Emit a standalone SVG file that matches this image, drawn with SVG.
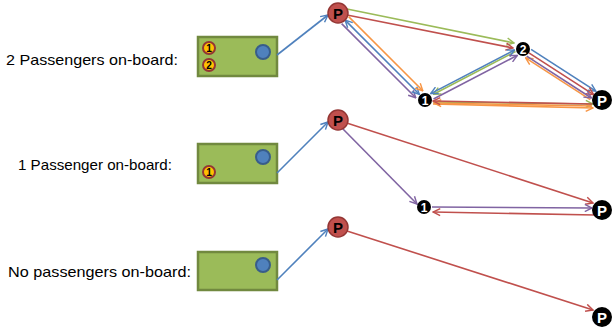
<svg xmlns="http://www.w3.org/2000/svg" width="612" height="332" viewBox="0 0 612 332">
  <style>
    .lbl { font-family: "Liberation Sans", Arial, sans-serif; font-size: 14.5px; fill: #000; }
    .box { fill: #9BBB59; stroke: #71893F; stroke-width: 2.5; }
    .dot { fill: #4F81BD; stroke: #385D8A; stroke-width: 2; }
    .badge { fill: #FFC000; stroke: #943634; stroke-width: 2; }
    .badge-t { font-family: "Liberation Sans", Arial, sans-serif; font-size: 10px; font-weight: bold; fill: #000; text-anchor: middle; }
    .stop { fill: #C0504D; stroke: #943634; stroke-width: 1.5; }
    .stop-t { font-family: "Liberation Sans", Arial, sans-serif; font-size: 15px; font-weight: bold; fill: #000; text-anchor: middle; }
    .pt { fill: #000; }
    .pt-t { font-family: "Liberation Sans", Arial, sans-serif; font-weight: bold; fill: #fff; text-anchor: middle; }
    .c { fill: none; stroke-width: 1.6; }
    .blue { stroke: #4F81BD; }
    .red { stroke: #C0504D; }
    .green { stroke: #9BBB59; }
    .purple { stroke: #8064A2; }
    .orange { stroke: #F79646; }
  </style>
  <defs>
    <marker id="aBlue" viewBox="0 0 10 10" refX="9" refY="5" markerWidth="9" markerHeight="9" markerUnits="userSpaceOnUse" orient="auto-start-reverse"><path d="M1,1 L9,5 L1,9" fill="none" stroke="#4F81BD" stroke-width="1.6"/></marker>
    <marker id="aRed" viewBox="0 0 10 10" refX="9" refY="5" markerWidth="9" markerHeight="9" markerUnits="userSpaceOnUse" orient="auto-start-reverse"><path d="M1,1 L9,5 L1,9" fill="none" stroke="#C0504D" stroke-width="1.6"/></marker>
    <marker id="aGreen" viewBox="0 0 10 10" refX="9" refY="5" markerWidth="9" markerHeight="9" markerUnits="userSpaceOnUse" orient="auto-start-reverse"><path d="M1,1 L9,5 L1,9" fill="none" stroke="#9BBB59" stroke-width="1.6"/></marker>
    <marker id="aPurple" viewBox="0 0 10 10" refX="9" refY="5" markerWidth="9" markerHeight="9" markerUnits="userSpaceOnUse" orient="auto-start-reverse"><path d="M1,1 L9,5 L1,9" fill="none" stroke="#8064A2" stroke-width="1.6"/></marker>
    <marker id="aOrange" viewBox="0 0 10 10" refX="9" refY="5" markerWidth="9" markerHeight="9" markerUnits="userSpaceOnUse" orient="auto-start-reverse"><path d="M1,1 L9,5 L1,9" fill="none" stroke="#F79646" stroke-width="1.6"/></marker>
  </defs>

  <!-- row labels -->
  <text class="lbl" x="6" y="65" textLength="172" lengthAdjust="spacingAndGlyphs">2 Passengers on-board:</text>
  <text class="lbl" x="18" y="170" textLength="154" lengthAdjust="spacingAndGlyphs">1 Passenger on-board:</text>
  <text class="lbl" x="8" y="277" textLength="183" lengthAdjust="spacingAndGlyphs">No passengers on-board:</text>

  <!-- vehicles -->
  <g id="vehicle-2">
    <rect class="box" x="198" y="37" width="79" height="39"/>
    <circle class="dot" cx="263" cy="52" r="7"/>
    <circle class="badge" cx="209" cy="48" r="6"/>
    <text class="badge-t" x="209" y="51.5">1</text>
    <circle class="badge" cx="209" cy="65" r="6"/>
    <text class="badge-t" x="209" y="68.5">2</text>
  </g>
  <g id="vehicle-1">
    <rect class="box" x="198" y="144" width="79" height="39"/>
    <circle class="dot" cx="263" cy="157" r="7"/>
    <circle class="badge" cx="209" cy="172" r="6"/>
    <text class="badge-t" x="209" y="175.5">1</text>
  </g>
  <g id="vehicle-0">
    <rect class="box" x="198" y="252" width="79" height="38"/>
    <circle class="dot" cx="263" cy="265" r="7"/>
  </g>

  <!-- connectors -->
  <g id="connectors">
    <!-- vehicle to pickup -->
    <line class="c blue" x1="277" y1="55" x2="328" y2="15" marker-end="url(#aBlue)"/>
    <line class="c blue" x1="277" y1="173" x2="328" y2="122" marker-end="url(#aBlue)"/>
    <line class="c blue" x1="277" y1="280" x2="328" y2="229" marker-end="url(#aBlue)"/>

    <!-- two passengers: pickup to stop 2 -->
    <line class="c green" x1="347" y1="9" x2="514" y2="43" marker-end="url(#aGreen)"/>
    <line class="c red" x1="347" y1="15" x2="513" y2="48" marker-end="url(#aRed)"/>
    <!-- pickup to stop 1 -->
    <line class="c purple" x1="341.6" y1="23.6" x2="415.8" y2="97.8" marker-end="url(#aPurple)"/>
    <line class="c blue" x1="345.1" y1="20.1" x2="419.3" y2="94.3" marker-start="url(#aBlue)" marker-end="url(#aBlue)"/>
    <line class="c orange" x1="348.6" y1="16.6" x2="422.8" y2="90.8" marker-end="url(#aOrange)"/>
    <!-- stop 1 and stop 2 -->
    <line class="c green" x1="515.5" y1="51.5" x2="433.5" y2="94.2" marker-end="url(#aGreen)"/>
    <line class="c blue" x1="430.7" y1="93.6" x2="514.5" y2="50" marker-start="url(#aBlue)" marker-end="url(#aBlue)"/>
    <line class="c purple" x1="433.5" y1="99" x2="517.3" y2="55.4" marker-end="url(#aPurple)"/>
    <!-- stop 2 and drop-off -->
    <line class="c blue" x1="531.1" y1="49.4" x2="595.8" y2="91.2" marker-end="url(#aBlue)"/>
    <line class="c red" x1="528.9" y1="52.8" x2="593.6" y2="94.6" marker-end="url(#aRed)"/>
    <line class="c orange" x1="590.3" y1="99.6" x2="525.6" y2="57.8" marker-end="url(#aOrange)"/>
    <line class="c purple" x1="526.7" y1="56.2" x2="591.4" y2="98" marker-end="url(#aPurple)"/>
    <!-- stop 1 and drop-off -->
    <line class="c green" x1="433" y1="102" x2="593" y2="104" marker-end="url(#aGreen)"/>
    <line class="c orange" x1="433" y1="104" x2="593" y2="108" marker-end="url(#aOrange)"/>
    <line class="c orange" x1="592" y1="106" x2="434" y2="103" marker-end="url(#aOrange)"/>
    <line class="c red" x1="592" y1="104" x2="433" y2="101" marker-end="url(#aRed)"/>

    <!-- one passenger -->
    <line class="c red" x1="347.5" y1="123.2" x2="593" y2="203" marker-end="url(#aRed)"/>
    <line class="c purple" x1="342" y1="128" x2="417" y2="204" marker-end="url(#aPurple)"/>
    <line class="c purple" x1="432" y1="207" x2="592" y2="208" marker-end="url(#aPurple)"/>
    <line class="c red" x1="595" y1="215" x2="433" y2="212" marker-end="url(#aRed)"/>

    <!-- no passengers -->
    <line class="c red" x1="347" y1="231" x2="593" y2="310" marker-end="url(#aRed)"/>
  </g>

  <!-- pickups -->
  <g id="pickup-top"><circle class="stop" cx="338" cy="13" r="10"/><text class="stop-t" x="338" y="18.5">P</text></g>
  <g id="pickup-mid"><circle class="stop" cx="338" cy="120" r="10"/><text class="stop-t" x="338" y="125.5">P</text></g>
  <g id="pickup-bot"><circle class="stop" cx="338" cy="227" r="10"/><text class="stop-t" x="338" y="232.5">P</text></g>

  <!-- stops and drop-offs -->
  <g id="stop1-top"><circle class="pt" cx="425" cy="100" r="7"/><text class="pt-t" x="425" y="104.5" font-size="12">1</text></g>
  <g id="stop2-top"><circle class="pt" cx="523" cy="49" r="7"/><text class="pt-t" x="523" y="53.5" font-size="12">2</text></g>
  <g id="drop-top"><circle class="pt" cx="602" cy="100" r="10"/><text class="pt-t" x="602" y="105.5" font-size="15">P</text></g>
  <g id="stop1-mid"><circle class="pt" cx="424" cy="207" r="7"/><text class="pt-t" x="424" y="211.5" font-size="12">1</text></g>
  <g id="drop-mid"><circle class="pt" cx="602" cy="210" r="10"/><text class="pt-t" x="602" y="215.5" font-size="15">P</text></g>
  <g id="drop-bot"><circle class="pt" cx="602" cy="317" r="10"/><text class="pt-t" x="602" y="322.5" font-size="15">P</text></g>
</svg>
